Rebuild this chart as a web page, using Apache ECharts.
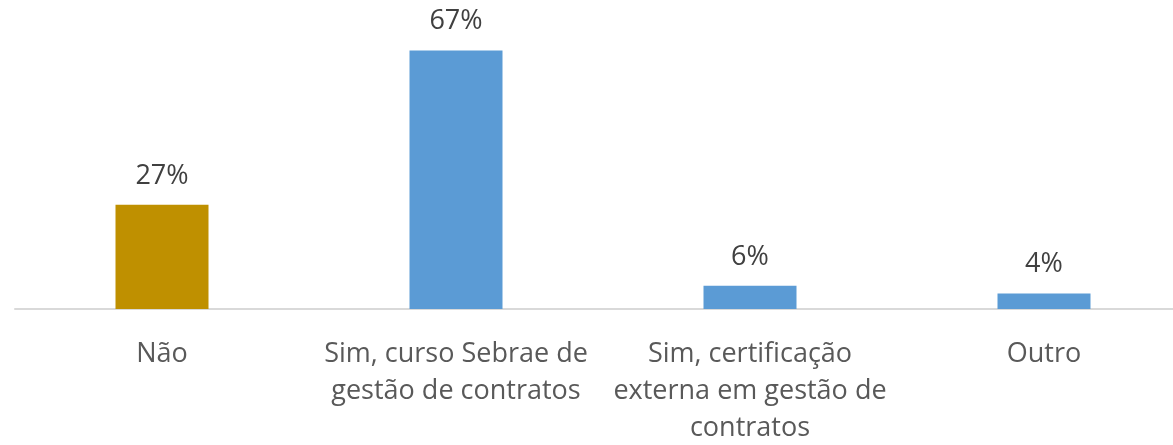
<!DOCTYPE html>
<html>
<head>
<meta charset="utf-8">
<script src="https://cdn.jsdelivr.net/npm/echarts@6/dist/echarts.min.js"></script>
<style>
html, body { margin: 0; padding: 0; background: #fff; overflow: hidden; }
#chart { width: 1200px; height: 445px; }
</style>
</head>
<body>
<div id="chart"></div>
<script>
var categories = [
  'Não',
  'Sim, curso Sebrae de\ngestão de contratos',
  'Sim, certificação\nexterna em gestão de\ncontratos',
  'Outro'
]
var values = [27, 67, 6, 4]
var barColors = ['#BF9000', '#5B9BD5', '#5B9BD5', '#5B9BD5']

// the plot is wider than the window, the right end is cut off like in the picture
var chart = echarts.init(document.getElementById('chart'))
chart.setOption({
  animation: false,
  grid: {
    left: 15,
    width: 1176,
    top: 39,
    bottom: 136,
    outerBoundsMode: 'none'
  },
  xAxis: {
    type: 'category',
    data: categories,
    axisLine: { lineStyle: { color: '#d9d9d9', width: 2 } },
    axisTick: { show: false },
    axisLabel: {
      interval: 0,
      margin: 27,
      color: '#595959',
      fontFamily: 'Open Sans',
      fontSize: 27,
      lineHeight: 37,
      align: 'center'
    }
  },
  yAxis: {
    type: 'value',
    min: 0,
    max: 70,
    show: false,
    splitLine: { show: false }
  },
  series: [{
    type: 'bar',
    barWidth: 93,
    data: values.map(function (v, i) {
      return { value: v, itemStyle: { color: barColors[i] } }
    }),
    label: {
      show: true,
      position: 'top',
      distance: 15,
      formatter: '{c}%',
      color: '#404040',
      fontFamily: 'Open Sans',
      fontSize: 27,
      lineHeight: 28
    }
  }]
})
</script>
</body>
</html>
